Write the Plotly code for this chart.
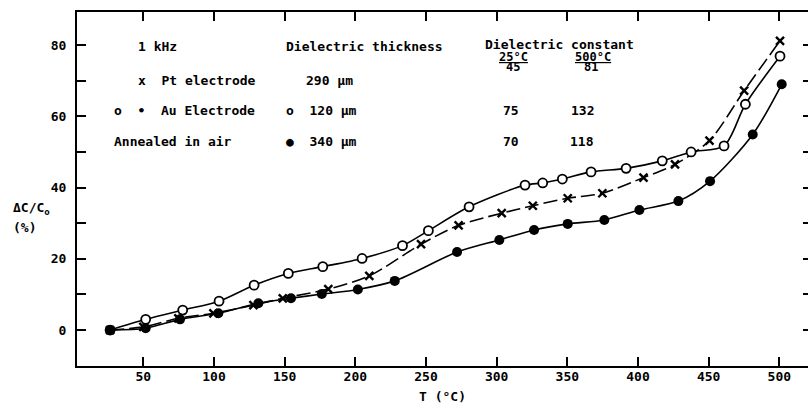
import plotly.graph_objects as go

# ---- data ----
pt_T = [26.5, 50.0, 74.8, 99.6, 127.9, 148.7, 180.9, 209.9, 246.5, 273.1, 303.6, 325.6,
        350.3, 374.8, 403.9, 426.2, 450.6, 475.1, 500.5]
pt_dC = [0.0, 0.9, 3.3, 4.7, 7.0, 8.9, 11.5, 15.2, 24.1, 29.4, 32.8, 34.9,
         37.0, 38.4, 42.8, 46.5, 53.2, 67.2, 81.2]

au120_T = [26.5, 51.7, 77.9, 103.6, 128.4, 152.6, 177.0, 204.8, 233.4, 251.7, 280.5, 320.1,
           332.6, 346.5, 366.8, 391.6, 417.2, 437.6, 460.9, 476.0, 500.5]
au120_dC = [0.0, 3.0, 5.6, 8.1, 12.6, 15.9, 17.8, 20.1, 23.7, 27.9, 34.6, 40.7,
            41.3, 42.4, 44.4, 45.4, 47.5, 50.0, 51.7, 63.4, 76.9]

au340_T = [26.5, 51.7, 76.0, 103.1, 131.4, 154.5, 176.3, 201.8, 227.9, 272.0, 301.9, 326.5,
           350.3, 376.2, 401.0, 428.6, 451.0, 481.2, 501.7]
au340_dC = [0.0, 0.5, 3.0, 4.7, 7.5, 8.9, 10.1, 11.4, 13.8, 21.9, 25.3, 28.1,
            29.8, 30.9, 33.7, 36.2, 41.8, 54.9, 69.0]

x_ticks = [50, 100, 150, 200, 250, 300, 350, 400, 450, 500]
y_ticks = [0, 10, 20, 30, 40, 50, 60, 70, 80]
y_ticktext = ["0", " ", "20", " ", "40", " ", "60", " ", "80"]

FONT = "DejaVu Sans Mono"
W, H = 808, 409
L, R, T, B = 77, 0, 12, 43

fig = go.Figure()

fig.add_trace(go.Scatter(
    x=pt_T, y=pt_dC, mode="lines+markers",
    line=dict(color="black", width=1.6, shape="spline", smoothing=0.8, dash="14px,5px"),
    marker=dict(symbol="x-thin", size=8, color="black", line=dict(color="black", width=2.4)),
    showlegend=False))

fig.add_trace(go.Scatter(
    x=au120_T, y=au120_dC, mode="lines+markers",
    line=dict(color="black", width=1.6, shape="spline", smoothing=0.8),
    marker=dict(symbol="circle", size=9, color="white", line=dict(color="black", width=1.8)),
    showlegend=False))

fig.add_trace(go.Scatter(
    x=au340_T, y=au340_dC, mode="lines+markers",
    line=dict(color="black", width=1.6, shape="spline", smoothing=0.8),
    marker=dict(symbol="circle", size=10, color="black", line=dict(color="black", width=0)),
    showlegend=False))

# invisible trace for right-side ticks
fig.add_trace(go.Scatter(x=[pt_T[0]], y=[pt_dC[0]], yaxis="y2", mode="markers",
                         marker=dict(opacity=0), showlegend=False, hoverinfo="skip"))

def pxx(x):
    return (x - L) / (W - L - R)

def pyy(y):
    return (H - B - y) / (H - T - B)

def ann(text, x, y, xanchor="left", size=13):
    fig.add_annotation(text=text, x=pxx(x), y=pyy(y), xref="paper", yref="paper",
                       xanchor=xanchor, yanchor="middle", showarrow=False,
                       font=dict(family=FONT, size=size, color="black", weight="bold"))

ann("1 kHz", 136, 46)
ann("Dielectric thickness", 284, 46)
ann("Dielectric constant", 483, 45)
ann("<u>25°C</u>", 513, 57, "center", 12)
ann("<u>500°C</u>", 593, 57, "center", 12)
ann("45", 513, 67, "center", 12)
ann("81", 591, 67, "center", 12)
ann("x  Pt electrode", 136, 80)
ann("290 µm", 304, 80)
ann("o  •  Au Electrode", 112, 110)
ann("o  120 µm", 284, 110)
ann("75", 511, 110, "center")
ann("132", 582, 110, "center")
ann("Annealed in air", 112, 142)
ann("●  340 µm", 284, 142)
ann("70", 511, 142, "center")
ann("118", 582, 142, "center")
ann("ΔC/C<sub>o</sub>", 11, 209)
ann("(%)", 11, 228)

x_range = [3.1, 520.3]
y_range = [-10.1, 89.3]

fig.update_layout(
    width=W, height=H,
    margin=dict(l=L, r=R, t=T, b=B),
    paper_bgcolor="white", plot_bgcolor="white",
    font=dict(family=FONT, size=13, color="black", weight="bold"),
    xaxis=dict(range=x_range, tickvals=x_ticks, ticks="inside", ticklen=9, tickwidth=2,
               tickcolor="black", showline=True, linecolor="black", linewidth=2,
               mirror="ticks", showgrid=False, zeroline=False, ticklabelstandoff=-3,
               tickfont=dict(family=FONT, size=13, color="black", weight="bold"),
               title=dict(text="T (°C)", standoff=9,
                          font=dict(family=FONT, size=13, color="black", weight="bold"))),
    yaxis=dict(range=y_range, tickvals=y_ticks, ticktext=y_ticktext, ticks="inside",
               ticklen=9, tickwidth=2, tickcolor="black", showline=True,
               linecolor="black", linewidth=2, showgrid=False, zeroline=False,
               ticklabelstandoff=6,
               tickfont=dict(family=FONT, size=13, color="black", weight="bold")),
    yaxis2=dict(range=y_range, overlaying="y", side="right", tickvals=y_ticks,
                ticks="inside", ticklen=5, tickwidth=2, tickcolor="black",
                showticklabels=False, showline=False, showgrid=False, zeroline=False),
)

fig.write_html("out.html")
